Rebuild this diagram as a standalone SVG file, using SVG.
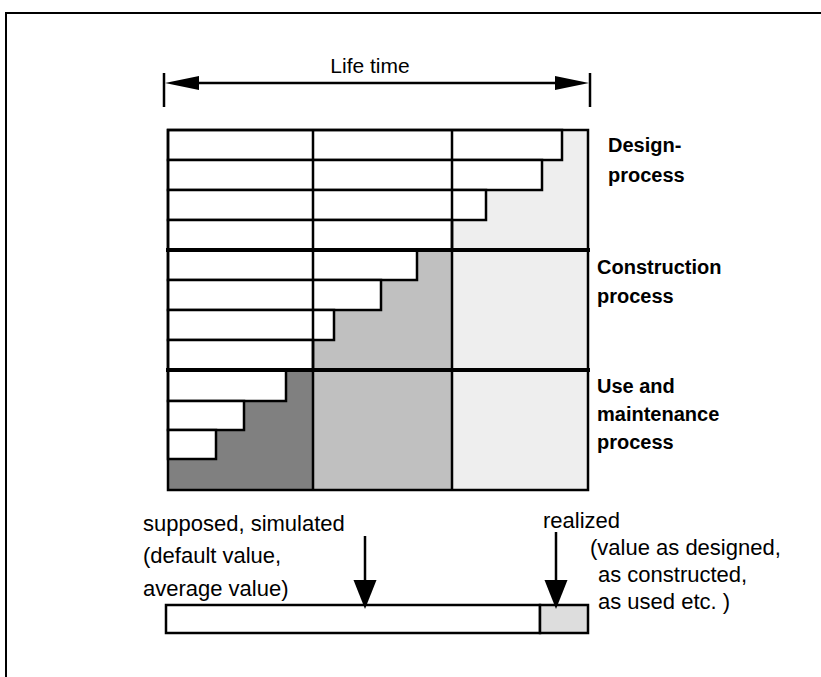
<svg xmlns="http://www.w3.org/2000/svg" width="821" height="677" viewBox="0 0 821 677">
<style>
.t{font-family:"Liberation Sans",Arial,sans-serif;font-size:22px;fill:#000}
.lt{font-family:"Liberation Sans",Arial,sans-serif;font-size:21px;fill:#000}
.b{font-family:"Liberation Sans",Arial,sans-serif;font-size:20px;font-weight:bold;fill:#000}
.bar{fill:#fff;stroke:#000;stroke-width:2.5}
.ln{stroke:#000;stroke-width:2.5;fill:none}
.thick{stroke:#000;stroke-width:4;fill:none}
.head{fill:#000}
</style>
<rect x="6" y="13" width="900" height="900" fill="#fff" stroke="#000" stroke-width="2"/>
<g id="lifetime">
<line class="ln" x1="164" y1="73" x2="164" y2="107"/>
<line class="ln" x1="590" y1="73" x2="590" y2="107"/>
<line class="ln" x1="190" y1="83" x2="565" y2="83"/>
<polygon class="head" points="165,83 199,76 199,90"/>
<polygon class="head" points="589,83 555,76 555,90"/>
<text class="lt" x="370" y="73" text-anchor="middle">Life time</text>
</g>
<g id="grid">
<rect x="452" y="130" width="136" height="360" fill="#eeeeee"/>
<rect x="313" y="250" width="139" height="240" fill="#c0c0c0"/>
<rect x="168" y="370" width="145" height="120" fill="#808080"/>
<g id="design-bars">
<rect class="bar" x="168" y="130" width="394" height="30"/>
<rect class="bar" x="168" y="160" width="374" height="30"/>
<rect class="bar" x="168" y="190" width="318" height="30"/>
<rect class="bar" x="168" y="220" width="284" height="30"/>
</g>
<g id="construction-bars">
<rect class="bar" x="168" y="250" width="249" height="30"/>
<rect class="bar" x="168" y="280" width="213" height="30"/>
<rect class="bar" x="168" y="310" width="166" height="30"/>
<rect class="bar" x="168" y="340" width="145" height="30"/>
</g>
<g id="use-bars">
<rect class="bar" x="168" y="370" width="118" height="31"/>
<rect class="bar" x="168" y="401" width="76" height="29"/>
<rect class="bar" x="168" y="430" width="48" height="29"/>
</g>
<line class="ln" x1="313" y1="130" x2="313" y2="490"/>
<line class="ln" x1="452" y1="130" x2="452" y2="490"/>
<rect class="ln" x="168" y="130" width="420" height="360"/>
<line class="thick" x1="166" y1="250" x2="590" y2="250"/>
<line class="thick" x1="166" y1="370" x2="590" y2="370"/>
</g>
<g id="labels">
<text class="b" x="608" y="152">Design-</text>
<text class="b" x="608" y="182">process</text>
<text class="b" x="597" y="274">Construction</text>
<text class="b" x="597" y="303">process</text>
<text class="b" x="597" y="393">Use and</text>
<text class="b" x="597" y="421">maintenance</text>
<text class="b" x="597" y="449">process</text>
</g>
<g id="valuebar">
<rect class="bar" x="166" y="605" width="374" height="28"/>
<rect x="540" y="605" width="48" height="28" fill="#dddddd" stroke="#000" stroke-width="2.5"/>
</g>
<g id="connectors">
<line class="ln" x1="365" y1="536" x2="365" y2="585"/>
<polygon class="head" points="353.5,580 376.5,580 365,609"/>
<line class="ln" x1="556" y1="532" x2="556" y2="585"/>
<polygon class="head" points="544.5,580 567.5,580 556,609"/>
</g>
<g id="texts">
<text class="t" x="143" y="531">supposed, simulated</text>
<text class="t" x="143" y="563">(default value,</text>
<text class="t" x="143" y="596">average value)</text>
<text class="t" x="543" y="528">realized</text>
<text class="t" x="590" y="555">(value as designed,</text>
<text class="t" x="598" y="582">as constructed,</text>
<text class="t" x="598" y="609">as used etc. )</text>
</g>
</svg>
